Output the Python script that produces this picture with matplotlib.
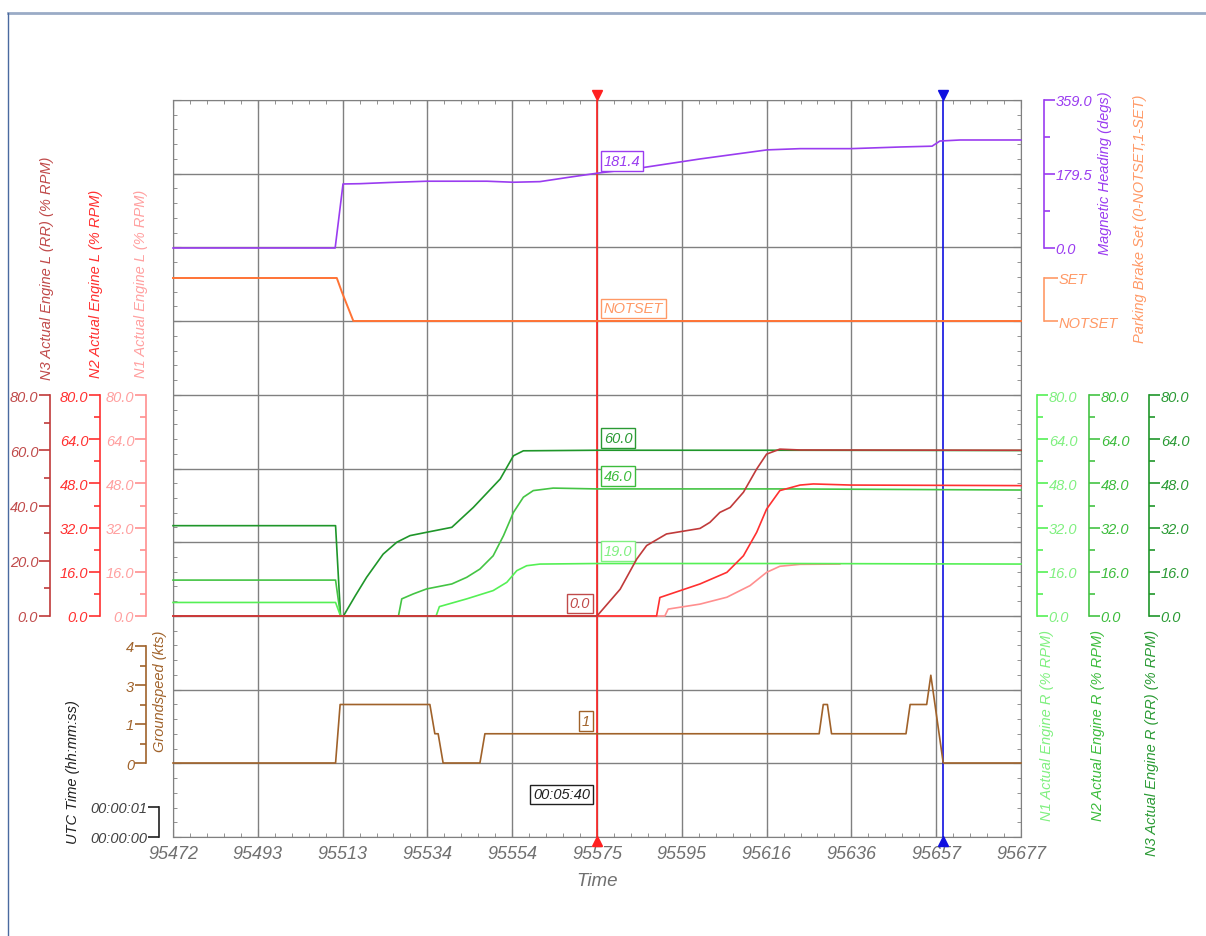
import matplotlib
matplotlib.use('Agg')
import matplotlib.pyplot as plt
from matplotlib.lines import Line2D
import numpy as np

plt.rcParams['font.family'] = ['Liberation Sans', 'DejaVu Sans']
plt.rcParams['font.style'] = 'italic'

# ---- time axis ----
t_start, t_end, t_step = 95472, 95677, 20.5
cursor_red = 95574.5
cursor_blue = 95658.2

# ---- magnetic heading (degs) ----
hdg_t = [95472.0, 95511.2, 95513.1, 95517.2, 95524.5, 95533.4, 95547.9, 95554.3, 95560.7,
         95568.0, 95574.5, 95584.9, 95599.4, 95615.6, 95623.6, 95635.9, 95647.8, 95655.5,
         95657.4, 95662.3, 95677.0]
hdg_v = [0, 0, 155.3, 156, 159, 162, 162, 159.5, 161, 172, 181.4, 194, 216, 238, 241, 241,
         245, 247, 259.5, 262, 262]

# ---- parking brake (0-NOTSET, 1-SET) ----
brake_t = [95472.0, 95511.6, 95512.8, 95515.6, 95677.0]
brake_v = [1, 1, 0.68, 0, 0]

# ---- engine R (% RPM) ----
n3r_t = [95472.0, 95511.3, 95512.5, 95513.2, 95516.1, 95518.8, 95522.8, 95526.1, 95529.3,
         95533.3, 95539.4, 95544.6, 95551.1, 95554.3, 95556.7, 95574.5, 95620.0, 95677.0]
n3r_v = [32.7, 32.7, 0, 0, 7.4, 14.0, 22.4, 26.7, 29.1, 30.3, 32.1, 39.3, 49.6, 58.0, 59.8,
         60.0, 60.0, 59.9]
n2r_t = [95472.0, 95511.3, 95512.5, 95526.5, 95527.3, 95530.1, 95533.3, 95539.4, 95543.0,
         95546.2, 95549.4, 95551.9, 95554.3, 95556.7, 95559.1, 95563.9, 95574.5, 95620.0, 95677.0]
n2r_v = [13.0, 13.0, 0, 0, 6.2, 8.0, 9.8, 11.6, 14.0, 17.0, 21.8, 29.1, 37.5, 43.0, 45.4,
         46.3, 46.0, 46.0, 45.6]
n1r_t = [95472.0, 95511.3, 95512.5, 95535.6, 95536.4, 95543.0, 95549.4, 95552.7, 95555.1,
         95557.5, 95560.7, 95574.5, 95620.0, 95677.0]
n1r_v = [4.9, 4.9, 0, 0, 3.4, 6.2, 9.2, 12.2, 16.4, 18.2, 18.8, 19.0, 19.0, 18.8]

# ---- engine L (% RPM) ----
n3l_t = [95472.0, 95574.5, 95580.1, 95584.1, 95586.5, 95591.3, 95599.4, 95601.8, 95604.2,
         95606.7, 95609.9, 95613.1, 95615.5, 95618.7, 95623.6, 95677.0]
n3l_v = [0, 0, 9.7, 20.6, 25.5, 29.7, 31.7, 33.9, 37.5, 39.3, 44.8, 53.2, 58.6, 60.4, 60.1, 60.0]
n2l_t = [95472.0, 95588.9, 95589.7, 95599.4, 95605.9, 95609.9, 95613.1, 95615.5, 95618.7,
         95623.6, 95626.8, 95635.9, 95677.0]
n2l_v = [0, 0, 6.7, 11.6, 15.8, 21.8, 30.3, 38.7, 45.4, 47.4, 47.8, 47.4, 47.2]
n1l_t = [95472.0, 95590.9, 95591.7, 95599.4, 95605.9, 95611.5, 95615.5, 95618.7, 95623.6, 95633.2]
n1l_v = [0, 0, 2.5, 4.3, 6.8, 11.0, 15.8, 18.0, 18.7, 18.8]

# ---- groundspeed (kts) ----
gs_t = [95472.0, 95511.3, 95512.4, 95534.1, 95535.3, 95536.1, 95537.3, 95546.2, 95547.4,
        95628.2, 95629.2, 95630.2, 95631.2, 95649.2, 95650.2, 95654.2, 95655.2, 95658.2, 95677.0]
gs_v = [0, 0, 2, 2, 1, 1, 0, 0, 1, 1, 2, 2, 1, 1, 2, 2, 3, 0, 0]

W, H = 1206, 937
fig = plt.figure(figsize=(W / 100, H / 100), dpi=100)
L, R, T, B = 173, 1021, 101, 838
GRID = '#808080'


def rect(y0, y1, x0=L, x1=R):
    return [x0 / W, 1 - y1 / H, (x1 - x0) / W, (y1 - y0) / H]


# main frame with grid
ax = fig.add_axes(rect(T, B))
ax.set_xlim(t_start, t_end)
ax.set_ylim(0, 10)
xt = np.arange(t_start, t_end + 0.01, t_step)
ax.set_xticks(xt)
ax.set_xticklabels([str(int(np.floor(v + 0.5))) for v in xt])
ax.set_xticks(np.arange(t_start, t_end + 0.01, t_step / 5), minor=True)
ax.set_yticks(np.arange(0, 11))
ax.set_yticks(np.arange(0, 10.01, 0.2), minor=True)
ax.tick_params(which='both', direction='in', top=True, right=True, color=GRID,
               labelleft=False)
ax.tick_params(which='major', length=6)
ax.tick_params(which='minor', length=3)
ax.tick_params(axis='x', labelsize=13, labelcolor='#707070', pad=6)
ax.grid(True, color=GRID, lw=1)
for s in ax.spines.values():
    s.set_color(GRID)
ax.set_xlabel('Time', fontsize=13.5, color='#707070', labelpad=7)


def panel(y0, y1, lo, hi):
    a = fig.add_axes(rect(y0, y1))
    a.set_xlim(t_start, t_end)
    a.set_ylim(lo, hi)
    a.patch.set_visible(False)
    for s in a.spines.values():
        s.set_visible(False)
    a.tick_params(axis='x', bottom=False, labelbottom=False)
    a.tick_params(axis='y', which='both', left=False, right=False,
                  labelleft=False, labelright=False)
    return a


def scale(a, side, xpx, color, ticks, labels, minor, lcolor=None):
    sp = a.spines[side]
    sp.set_visible(True)
    sp.set_color(color)
    sp.set_linewidth(1.2)
    sp.set_position(('axes', (xpx - L) / (R - L)))
    a.set_yticks(ticks)
    a.set_yticklabels(labels)
    a.set_yticks(minor, minor=True)
    on_left = side == 'left'
    a.tick_params(axis='y', which='both', direction='out', left=on_left, right=not on_left,
                  labelleft=on_left, labelright=not on_left, color=color,
                  labelcolor=lcolor or color, labelsize=10.5, pad=0.5)
    a.tick_params(axis='y', which='major', length=8, width=1.2)
    a.tick_params(axis='y', which='minor', length=4, width=1.2)


def flag(a, text, t, v, color, right=False):
    a.annotate(text, (t, v), xytext=(-5 if right else 5, 4), textcoords='offset points',
               ha='right' if right else 'left', va='bottom', fontsize=10.5, color=color,
               bbox=dict(boxstyle='square,pad=0.2', fc='white', ec=color, lw=1),
               annotation_clip=False, zorder=10)


def vlabel(text, xpx, ypx, color, va='center'):
    fig.text(xpx / W, 1 - ypx / H, text, rotation=90, ha='center', va=va,
             fontsize=10.5, color=color)


# heading
c_hdg = '#9a3cf0'
a_h = panel(101, 249, 0, 359)
a_h.plot(hdg_t, hdg_v, color=c_hdg, lw=1.2, clip_on=False)
scale(a_h, 'right', 1044, c_hdg, [0, 179.5, 359], ['0.0', '179.5', '359.0'], [89.75, 269.25])
flag(a_h, '181.4', cursor_red, 181.4, c_hdg)
vlabel('Magnetic Heading (degs)', 1105, 173, c_hdg)

# parking brake
c_brk = '#ff7335'
a_b = panel(279, 322, 0, 1)
a_b.plot(brake_t, brake_v, color=c_brk, lw=1.4, clip_on=False)
scale(a_b, 'right', 1044, '#ff9966', [0, 1], ['NOTSET', 'SET'], [])
a_b.tick_params(axis='y', which='major', length=10)
flag(a_b, 'NOTSET', cursor_red, 0, '#ff9966')
vlabel('Parking Brake Set (0-NOTSET,1-SET)', 1140, 219, '#ff9966')

# engines (drawn back to front: N1 L, greens, then N2 L / N3 L on top)
t16 = [0, 16, 32, 48, 64, 80]
m16 = [8, 24, 40, 56, 72]
lab16 = ['%.1f' % v for v in t16]
engines = [
    # time, value, side, spine x, line colour, label colour, ticks, labels, minor
    (n1l_t, n1l_v, 'left', 146, '#ff8f8f', '#ffa0a0', t16, lab16, m16),
    (n3r_t, n3r_v, 'right', 1149, '#1f962a', '#2a9a34', t16, lab16, m16),
    (n2r_t, n2r_v, 'right', 1089, '#44c444', '#3cbc3c', t16, lab16, m16),
    (n1r_t, n1r_v, 'right', 1037, '#55f055', '#80f080', t16, lab16, m16),
    (n2l_t, n2l_v, 'left', 100, '#ff3030', '#ff3030', t16, lab16, m16),
    (n3l_t, n3l_v, 'left', 50, '#c03a3a', '#c04a4a', [0, 20, 40, 60, 80],
     ['0.0', '20.0', '40.0', '60.0', '80.0'], [10, 30, 50, 70]),
]
eng_ax = []
for tt, vv, side, xpx, lc, tc, tk, tl, mn in engines:
    a = panel(396, 617, 0, 80)
    a.plot(tt, vv, color=lc, lw=1.2, clip_on=False)
    scale(a, side, xpx, lc, tk, tl, mn, lcolor=tc)
    eng_ax.append(a)
flag(eng_ax[1], '60.0', cursor_red, 60.0, '#2a9a34')
flag(eng_ax[2], '46.0', cursor_red, 46.0, '#3cbc3c')
flag(eng_ax[3], '19.0', cursor_red, 19.0, '#80f080')
flag(eng_ax[5], '0.0', cursor_red, 0.0, '#c04a4a', right=True)

vlabel('N3 Actual Engine L (RR) (% RPM)', 47, 380, '#c04a4a', va='bottom')
vlabel('N2 Actual Engine L (% RPM)', 96, 378, '#ff3030', va='bottom')
vlabel('N1 Actual Engine L (% RPM)', 141, 378, '#ffa0a0', va='bottom')
vlabel('N1 Actual Engine R (% RPM)', 1047, 630, '#80f080', va='top')
vlabel('N2 Actual Engine R (% RPM)', 1098, 630, '#3cbc3c', va='top')
vlabel('N3 Actual Engine R (RR) (% RPM)', 1152, 630, '#2a9a34', va='top')

# groundspeed
c_gs = '#a0622a'
a_g = panel(647, 764, 0, 4)
a_g.plot(gs_t, gs_v, color=c_gs, lw=1.2, clip_on=False)
scale(a_g, 'left', 146, c_gs, [0, 4 / 3, 8 / 3, 4], ['0', '1', '3', '4'], [2 / 3, 2, 10 / 3])
flag(a_g, '1', cursor_red, 1, c_gs, right=True)
vlabel('Groundspeed (kts)', 160, 691, c_gs)

# UTC time
a_u = panel(808, 838, 0, 1)
scale(a_u, 'left', 159, '#202020', [0, 1], ['00:00:00', '00:00:01'], [], lcolor='#404040')
flag(a_u, '00:05:40', cursor_red, 1, '#202020', right=True)
vlabel('UTC Time (hh:mm:ss)', 73, 772, '#202020')

# cursors
for t, c in [(cursor_red, '#ff2020'), (cursor_blue, '#1010e0')]:
    ax.axvline(t, color=c, lw=1.2, zorder=9)
    ax.plot([t], [1.007], marker='v', color=c, ms=7, transform=ax.get_xaxis_transform(),
            clip_on=False, zorder=9)
    ax.plot([t], [-0.006], marker='^', color=c, ms=7, transform=ax.get_xaxis_transform(),
            clip_on=False, zorder=9)

# window frame
fig.add_artist(Line2D([8 / W, 1], [1 - 14 / H, 1 - 14 / H], color='#9aabc6', lw=2))
fig.add_artist(Line2D([8 / W, 8 / W], [0, 1 - 14 / H], color='#4a6aa0', lw=1))

fig.savefig('out.png', dpi=100)
